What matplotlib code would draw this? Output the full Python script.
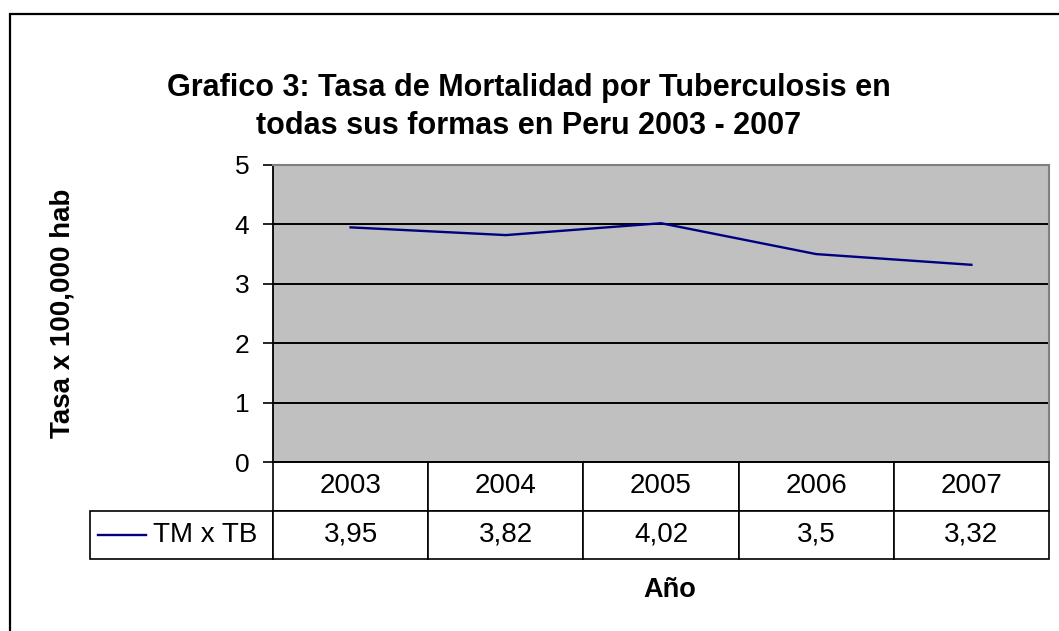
import matplotlib.pyplot as plt
from matplotlib.table import Table
from matplotlib.patches import Rectangle

# data
years = ['2003', '2004', '2005', '2006', '2007']
tasa = [3.95, 3.82, 4.02, 3.5, 3.32]
serie = 'TM x TB'
y_ticks = [0, 1, 2, 3, 4, 5]

plt.rcParams['font.family'] = ['Liberation Sans', 'DejaVu Sans']

fig = plt.figure(figsize=(10.59, 6.31), dpi=100)
ax = fig.add_axes([273 / 1059, 169 / 631, 776 / 1059, 297 / 631])

# plot area
ax.set_facecolor('#c0c0c0')
x = [i + 0.5 for i in range(len(years))]
ax.plot(x, tasa, color='#000080', lw=1.7, zorder=3)
ax.set_xlim(0, len(years))
ax.set_ylim(0, 5)
ax.set_yticks(y_ticks)
ax.set_xticks([])
for v in y_ticks[1:-1]:
    ax.axhline(v, color='black', lw=1.4, zorder=2)
ax.tick_params(axis='y', direction='out', length=7, width=1.2, pad=10, labelsize=19)
ax.spines['left'].set_linewidth(1.3)
ax.spines['bottom'].set_linewidth(1.3)
ax.spines['top'].set_color('#808080')
ax.spines['right'].set_color('#808080')
ax.spines['top'].set_linewidth(1.5)
ax.spines['right'].set_linewidth(1.5)

ax.set_ylabel('Tasa x 100,000 hab', fontsize=20, fontweight='bold')
ax.yaxis.set_label_coords(-0.255, 0.5)

# data table under the plot
lab_w = 183 / 776
col_w = 1.0 / len(years)
tab = Table(ax, bbox=[0, -97 / 297, 1, 97 / 297])
for j, yr in enumerate(years):
    tab.add_cell(0, j, width=col_w, height=0.5, text=yr, loc='center')
    tab.add_cell(1, j, width=col_w, height=0.5,
                 text=f'{tasa[j]:g}'.replace('.', ','), loc='center')
tab.add_cell(1, -1, width=lab_w, height=0.5, text='', loc='left')
tab.auto_set_font_size(False)
tab.set_fontsize(20)
for cell in tab.get_celld().values():
    cell.set_linewidth(1.2)
    cell.set_facecolor('white')
ax.add_table(tab)

# legend key inside the label cell
ax.plot([-175 / 776, -127 / 776], [-73 / 297, -73 / 297], color='#000080',
        lw=1.7, transform=ax.transAxes, clip_on=False)
ax.text(-120 / 776, -73 / 297, serie, transform=ax.transAxes, fontsize=20,
        ha='left', va='center')

ax.text(0.5116, -0.431, 'Año', transform=ax.transAxes, fontsize=19.5,
        fontweight='bold', ha='center', va='center')

fig.text(0.499, 0.83, 'Grafico 3: Tasa de Mortalidad por Tuberculosis en\n'
         'todas sus formas en Peru 2003 - 2007', ha='center', va='center',
         fontsize=22, fontweight='bold', linespacing=1.35)

# outer chart border (only top and left visible)
fig.patches.append(Rectangle((10 / 1059, -0.2), 1.2, 1.2 - 14 / 631,
                             transform=fig.transFigure, fill=False,
                             lw=1.6, edgecolor='black'))

fig.savefig('out.png', dpi=100)
